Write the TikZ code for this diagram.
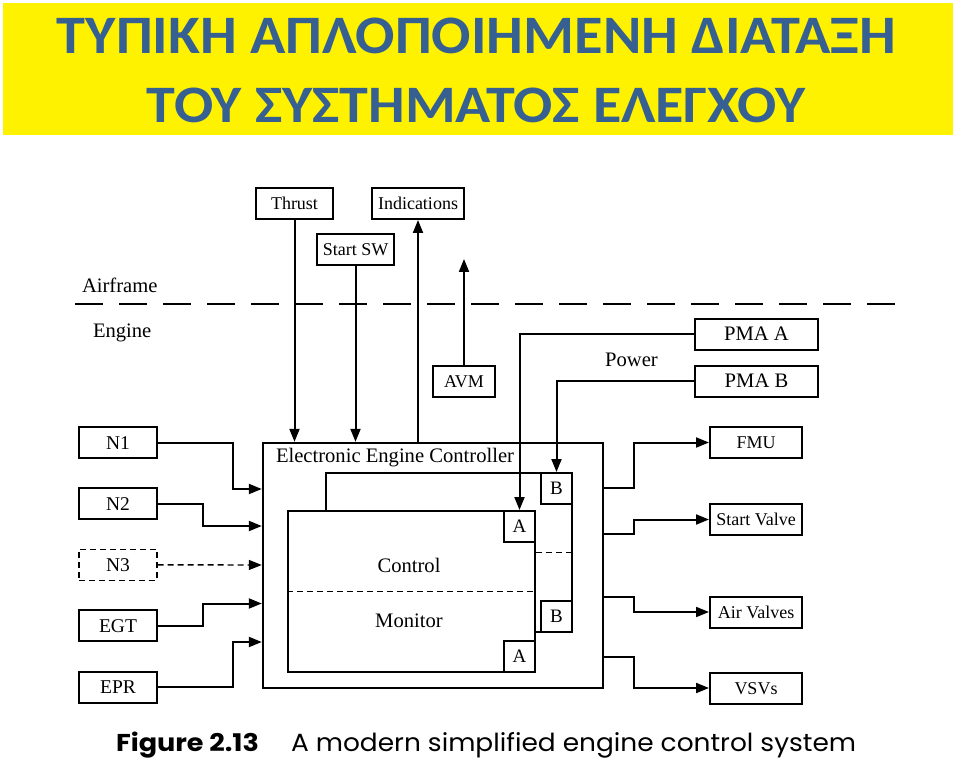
\documentclass[tikz,border=0pt]{standalone}
\usepackage{fontspec}
\setmainfont{Liberation Serif}
\newfontfamily\titlefont{Carlito}
\newfontfamily\capfont{Poppins}
\usetikzlibrary{arrows.meta}
\usetikzlibrary{positioning}
\usetikzlibrary{calc}
\definecolor{bannerblue}{RGB}{55,96,146}
\newcommand{\bigsize}{\fontsize{20.6pt}{24pt}\selectfont}
\newcommand{\smallsize}{\fontsize{18pt}{21pt}\selectfont}

\begin{document}
\begin{tikzpicture}[x=1pt,y=-1pt,>={Triangle[length=13pt,width=10pt]},line width=2pt]
	\tikzstyle{box}=[draw,rectangle,inner sep=0pt,minimum height=31pt,text height=12pt,text depth=0pt,font=\smallsize]
	\tikzstyle{sensor}=[box,minimum width=78pt,font=\fontsize{19.5pt}{22pt}\selectfont,text height=13pt]
	\tikzstyle{actuator}=[box,minimum width=92pt]
	\tikzstyle{pma}=[box,minimum width=123pt,font=\bigsize,text height=13.5pt]
	\tikzstyle{channel}=[draw,rectangle,fill=white,inner sep=0pt]
	\tikzstyle{port}=[box,minimum width=31pt,font=\fontsize{19pt}{22pt}\selectfont,text height=12.5pt]
	\tikzstyle{txt}=[inner sep=0pt,font=\bigsize]
	\tikzstyle{split}=[dashed,line width=1.4pt,dash pattern=on 6pt off 4pt]
	
	\useasboundingbox (0,0) rectangle (959,762);
	
	% banner
	\fill[yellow] (2.5,3) rectangle (953,135);
	\node[anchor=base,inner sep=0pt,text=bannerblue] (title1) at (476.5,54)
	{\resizebox{839pt}{35.5pt}{\titlefont\bfseries ΤΥΠΙΚΗ ΑΠΛΟΠΟΙΗΜΕΝΗ ΔΙΑΤΑΞΗ}};
	\node[anchor=base,inner sep=0pt,text=bannerblue] (title2) at (476,123)
	{\resizebox{658pt}{34.5pt}{\titlefont\bfseries ΤΟΥ ΣΥΣΤΗΜΑΤΟΣ ΕΛΕΓΧΟΥ}};
	
	% airframe / engine split
	\draw[line width=2.6pt,dash pattern=on 28pt off 16pt] (75,304) -- (896,304);
	\node[txt,anchor=base west] (airframe) at (81,292) {Airframe};
	\node[txt,anchor=base west] (engine)   at (92,337) {Engine};
	
	% airframe side
	\node[box,minimum width=77pt] (thrust)      at (294.5,203.5) {Thrust};
	\node[box,minimum width=92pt] (indications) at (418,203.5)   {Indications};
	\node[box,minimum width=77pt] (startsw)     at (355.5,250)   {Start SW};
	\node[box,minimum width=62pt] (avm)         at (464,381)     {AVM};
	\coordinate (avmtip) at (464,259);
	
	% alternators
	\node[pma] (pmaa) at (756.5,334) {PMA A};
	\node[pma] (pmab) [below=14pt of pmaa] {PMA B};
	\node[txt,anchor=base] (power) at (631.5,366) {Power};
	
	% controller
	\node[draw,rectangle,minimum width=340pt,minimum height=245pt,line width=2.4pt] (eec) at (433,565.5) {};
	\node[txt,anchor=base west] (eectitle) at (275,462) {Electronic Engine Controller};
	
	\node[channel,minimum width=246pt,minimum height=159pt] (chb) at (449,552.5) {};
	\node[port,anchor=north east] (bup)  at (chb.north east) {B};
	\node[port,anchor=south east] (blow) at (chb.south east) {B};
	\node[channel,minimum width=247pt,minimum height=161pt] (cha) at (411.5,591.5) {};
	\node[port,anchor=north east] (aup)  at (cha.north east) {A};
	\node[port,anchor=south east] (alow) at (cha.south east) {A};
	\draw[split] (cha.west) -- (cha.east);
	\draw[split] (cha.east |- chb.east) -- (chb.east);
	\node[txt,anchor=base] (control) at (409,572) {Control};
	\node[txt,anchor=base] (monitor) at (409,627) {Monitor};
	
	% sensors
	\node[sensor] (n1) at (118,442.5) {N1};
	\node[sensor] (n2) [below=28.3pt of n1] {N2};
	\node[sensor,dashed,dash pattern=on 6pt off 4pt,line width=1.4pt] (n3) [below=28.3pt of n2] {N3};
	\node[sensor] (egt) [below=28.3pt of n3] {EGT};
	\node[sensor] (epr) [below=28.3pt of egt] {EPR};
	
	% actuators
	\node[actuator] (fmu)        at (756,442.5) {FMU};
	\node[actuator] (startvalve) at (756,519.5) {Start Valve};
	\node[actuator] (airvalves)  at (756,612)   {Air Valves};
	\node[actuator] (vsvs)       at (756,688)   {VSVs};
	
	% caption
	\node[anchor=base west,inner sep=0pt] (fignum) at (115,751)
	{\resizebox{143pt}{19.5pt}{\capfont\bfseries Figure 2.13}};
	\node[anchor=base west,inner sep=0pt] (figtext) at (290,751)
	{\resizebox{565pt}{19pt}{\capfont A modern simplified engine control system}};
	
	% ports on the controller
	\coordinate (in1) at (eec.west |- 0,489);
	\coordinate (in2) at (eec.west |- 0,526);
	\coordinate (in3) at (eec.west |- 0,565);
	\coordinate (in4) at (eec.west |- 0,603.5);
	\coordinate (in5) at (eec.west |- 0,642);
	\coordinate (out1) at (eec.east |- 0,488);
	\coordinate (out2) at (eec.east |- 0,534);
	\coordinate (out3) at (eec.east |- 0,597);
	\coordinate (out4) at (eec.east |- 0,657);
	
	\draw[->] (thrust) -- (thrust |- eec.north);
	\draw[->] (startsw) -- (startsw |- eec.north);
	\draw[->] (eec.north -| indications) -- (indications);
	\draw[->] (avm) -- (avmtip);
	\draw[->] (pmaa) -| (aup);
	\draw[->] (pmab) -| (bup);
	
	\draw[->] (n1.east) -- ++(75,0) |- (in1);
	\draw[->] (n2.east) -- ++(45,0) |- (in2);
	\draw[->,split] (n3) -- (in3);
	\draw[->] (egt.east) -- ++(45,0) |- (in4);
	\draw[->] (epr.east) -- ++(75,0) |- (in5);
	
	\draw[->] (out1) -- ++(30,0) |- (fmu);
	\draw[->] (out2) -- ++(30,0) |- (startvalve);
	\draw[->] (out3) -- ++(30,0) |- (airvalves);
	\draw[->] (out4) -- ++(30,0) |- (vsvs);
\end{tikzpicture}
\end{document}
